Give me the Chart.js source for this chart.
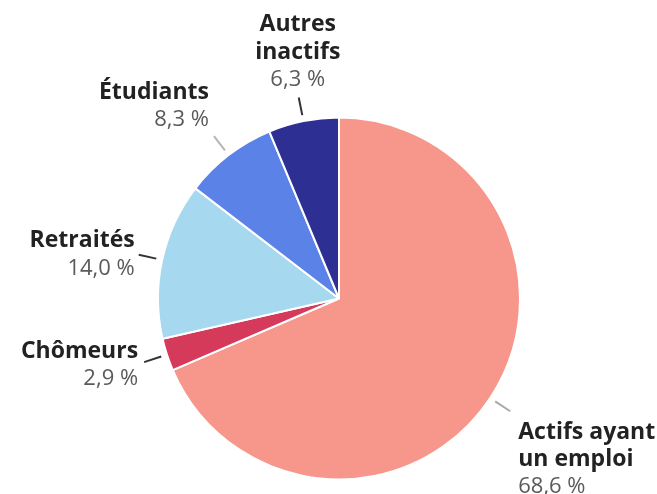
<!DOCTYPE html>
<html lang="fr">
<head>
<meta charset="utf-8">
<script src="https://cdn.jsdelivr.net/npm/chart.js@4"></script>
<style>
  html, body { margin: 0; padding: 0; background: #ffffff; }
  #wrap { position: relative; width: 657px; height: 494px; }
</style>
</head>
<body>
<div id="wrap"><canvas id="chart"></canvas></div>
<script>
// Répartition de la population de 15 ans ou plus selon la situation (%)
const categories = ['Actifs ayant un emploi', 'Chômeurs', 'Retraités', 'Étudiants', 'Autres inactifs'];
const labelLines = [['Actifs ayant', 'un emploi'], ['Chômeurs'], ['Retraités'], ['Étudiants'], ['Autres', 'inactifs']];
const shares = [68.6, 2.9, 14.0, 8.3, 6.3];
const sliceColors = ['#F7968A', '#D63A5B', '#A6D8F0', '#5B82E6', '#2E2F93'];

// Placement of each callout relative to the end of its leader line
const calloutLayout = [
  { align: 'left',   dx: 8,  firstDy: 21,  lineColor: '#a9a9a9' },
  { align: 'right',  dx: -6, firstDy: -11, lineColor: '#333333' },
  { align: 'right',  dx: -4, firstDy: -14, lineColor: '#333333' },
  { align: 'right',  dx: -5, firstDy: -44, lineColor: '#b5b5b5' },
  { align: 'center', dx: -1, firstDy: -73, lineColor: '#333333' }
];

const fmt = v => v.toFixed(1).replace('.', ',') + ' %';

const calloutPlugin = {
  id: 'callouts',
  afterDatasetsDraw(chart) {
    const ctx = chart.ctx;
    const meta = chart.getDatasetMeta(0);
    const lineGap = 27.5;
    meta.data.forEach((arc, i) => {
      const p = arc.getProps(['x', 'y', 'startAngle', 'endAngle', 'outerRadius'], true);
      const mid = (p.startAngle + p.endAngle) / 2;
      const r0 = p.outerRadius + 6, r1 = p.outerRadius + 24;
      const x0 = p.x + Math.cos(mid) * r0, y0 = p.y + Math.sin(mid) * r0;
      const x1 = p.x + Math.cos(mid) * r1, y1 = p.y + Math.sin(mid) * r1;
      const lay = calloutLayout[i];

      ctx.save();
      ctx.strokeStyle = lay.lineColor;
      ctx.lineWidth = 2;
      ctx.beginPath();
      ctx.moveTo(x0, y0);
      ctx.lineTo(x1, y1);
      ctx.stroke();

      ctx.textAlign = lay.align;
      ctx.textBaseline = 'middle';
      const tx = x1 + lay.dx;
      let ty = y1 + lay.firstDy;
      ctx.fillStyle = '#222222';
      ctx.font = 'bold 23px "Open Sans", sans-serif';
      labelLines[i].forEach(t => { ctx.fillText(t, tx, ty); ty += lineGap; });
      ctx.fillStyle = '#5a5a5a';
      ctx.font = '22px "Open Sans", sans-serif';
      ctx.fillText(fmt(shares[i]), tx, ty);
      ctx.restore();
    });
  }
};

new Chart(document.getElementById('chart'), {
  type: 'pie',
  data: {
    labels: categories,
    datasets: [{
      data: shares,
      backgroundColor: sliceColors,
      borderColor: '#ffffff',
      borderWidth: 2
    }]
  },
  options: {
    responsive: true,
    maintainAspectRatio: false,
    animation: false,
    layout: { padding: { top: 116, bottom: 13, left: 157, right: 136 } },
    plugins: {
      legend: { display: false },
      tooltip: { enabled: false }
    }
  },
  plugins: [calloutPlugin]
});
</script>
</body>
</html>
